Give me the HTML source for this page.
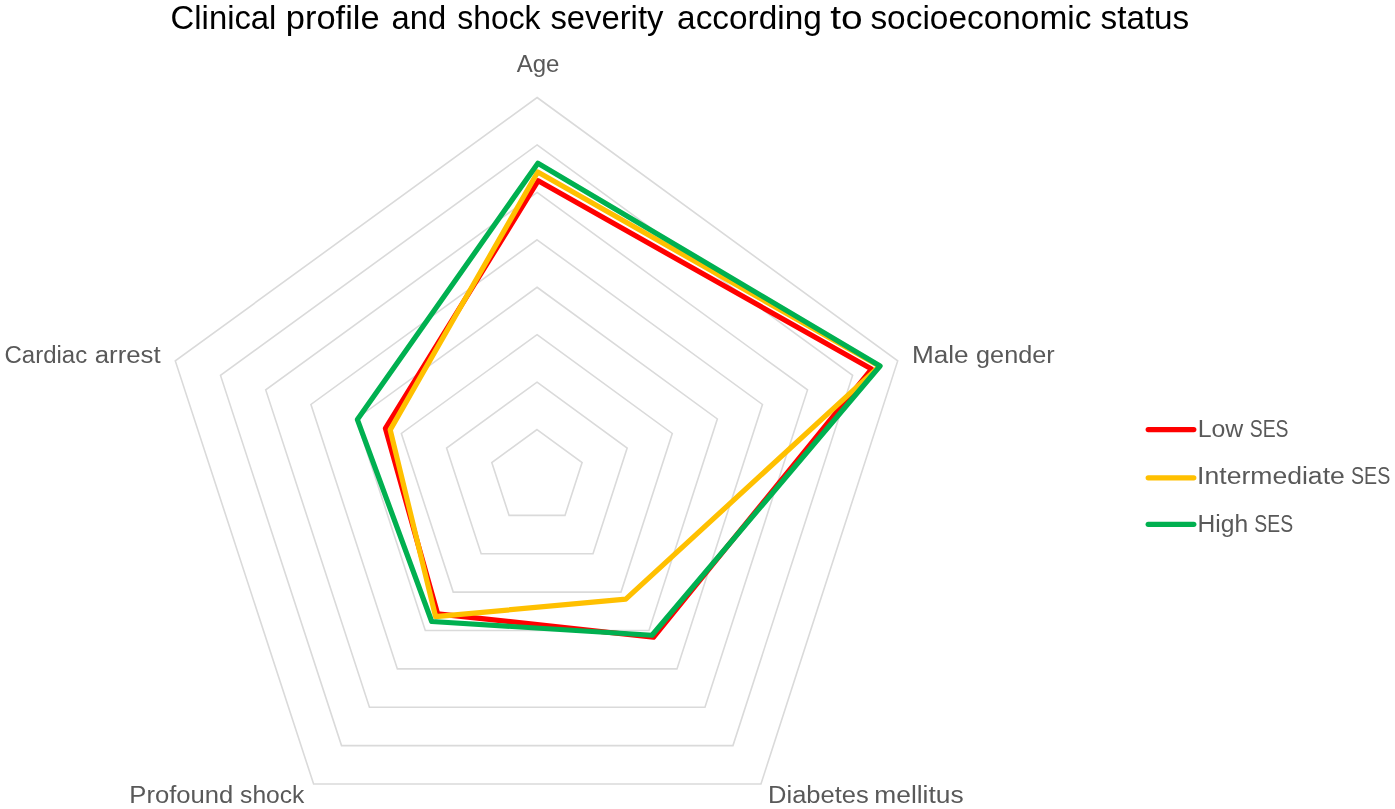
<!DOCTYPE html>
<html lang="en"><head><meta charset="utf-8"><title>Clinical profile and shock severity according to socioeconomic status</title>
<style>
html,body{margin:0;padding:0;background:#fff;}
body{width:1395px;height:809px;overflow:hidden;}
svg{display:block;font-family:"Liberation Sans",sans-serif;}
.grid polygon{fill:none;stroke:#DADADA;stroke-width:1.6;}
.series polygon{fill:none;stroke-width:5.20;stroke-linejoin:round;}
.legend line{stroke-width:5.2;stroke-linecap:round;}
</style></head><body>
<svg width="1395" height="809" viewBox="0 0 1395 809">
<rect width="1395" height="809" fill="#ffffff"/>
<g class="grid">
<polygon points="537.01,429.56 582.09,462.49 564.99,515.38 509.07,515.38 491.79,462.49"/>
<polygon points="537.02,382.12 627.17,447.98 592.99,553.75 481.15,553.75 446.57,447.98"/>
<polygon points="537.04,334.69 672.26,433.46 620.98,592.12 453.23,592.12 401.36,433.46"/>
<polygon points="537.05,287.25 717.35,418.95 648.98,630.50 425.30,630.50 356.15,418.95"/>
<polygon points="537.06,239.81 762.44,404.44 676.97,668.88 397.38,668.88 310.94,404.44"/>
<polygon points="537.08,192.38 807.53,389.92 704.96,707.25 369.45,707.25 265.73,389.92"/>
<polygon points="537.09,144.94 852.61,375.41 732.96,745.62 341.53,745.62 220.51,375.41"/>
<polygon points="537.10,97.50 897.70,360.90 760.95,784.00 313.60,784.00 175.30,360.90"/>
</g>
<g class="series">
<polygon points="538.20,180.75 871.50,369.10 653.44,637.27 437.60,613.80 385.40,428.40" stroke="#FF0000"/>
<polygon points="537.75,172.00 879.60,366.20 625.76,599.16 435.60,616.60 390.20,429.90" stroke="#FFC000"/>
<polygon points="537.90,163.15 880.05,366.00 651.97,635.24 431.70,621.50 357.40,419.60" stroke="#00B050"/>
</g>
<g class="legend">
<line x1="1148.2" x2="1193.8" y1="429.6" y2="429.6" stroke="#FF0000"/>
<line x1="1148.2" x2="1193.8" y1="477.8" y2="477.8" stroke="#FFC000"/>
<line x1="1148.2" x2="1193.8" y1="524.3" y2="524.3" stroke="#00B050"/>
</g>
<g class="labels">
<text y="28.8" font-size="33.5" fill="#000000"><tspan x="170.61" textLength="105.77" lengthAdjust="spacingAndGlyphs">Clinical</tspan> <tspan x="285.80" textLength="93.85" lengthAdjust="spacingAndGlyphs">profile</tspan> <tspan x="391.57" textLength="54.72" lengthAdjust="spacingAndGlyphs">and</tspan> <tspan x="457.36" textLength="83.18" lengthAdjust="spacingAndGlyphs">shock</tspan> <tspan x="550.41" textLength="112.98" lengthAdjust="spacingAndGlyphs">severity</tspan> <tspan x="677.12" textLength="144.67" lengthAdjust="spacingAndGlyphs">according</tspan> <tspan x="830.20" textLength="32.46" lengthAdjust="spacingAndGlyphs">to</tspan> <tspan x="870.41" textLength="221.00" lengthAdjust="spacingAndGlyphs">socioeconomic</tspan> <tspan x="1100.53" textLength="88.74" lengthAdjust="spacingAndGlyphs">status</tspan></text>
<text y="72.0" font-size="23.1" fill="#595959"><tspan x="516.66" textLength="42.73" lengthAdjust="spacingAndGlyphs">Age</tspan></text>
<text y="362.7" font-size="23.1" fill="#595959"><tspan x="4.50" textLength="82.68" lengthAdjust="spacingAndGlyphs">Cardiac</tspan> <tspan x="94.75" textLength="65.86" lengthAdjust="spacingAndGlyphs">arrest</tspan></text>
<text y="362.7" font-size="23.1" fill="#595959"><tspan x="911.98" textLength="56.66" lengthAdjust="spacingAndGlyphs">Male</tspan> <tspan x="976.09" textLength="78.56" lengthAdjust="spacingAndGlyphs">gender</tspan></text>
<text y="803.4" font-size="23.1" fill="#595959"><tspan x="129.37" textLength="103.95" lengthAdjust="spacingAndGlyphs">Profound</tspan> <tspan x="240.12" textLength="64.30" lengthAdjust="spacingAndGlyphs">shock</tspan></text>
<text y="803.4" font-size="23.1" fill="#595959"><tspan x="768.13" textLength="100.61" lengthAdjust="spacingAndGlyphs">Diabetes</tspan> <tspan x="874.30" textLength="89.26" lengthAdjust="spacingAndGlyphs">mellitus</tspan></text>
<text y="437.1" font-size="23.1" fill="#595959"><tspan x="1197.65" textLength="45.61" lengthAdjust="spacingAndGlyphs">Low</tspan> <tspan x="1249.74" textLength="38.82" lengthAdjust="spacingAndGlyphs">SES</tspan></text>
<text y="484.4" font-size="23.1" fill="#595959"><tspan x="1197.12" textLength="147.69" lengthAdjust="spacingAndGlyphs">Intermediate</tspan> <tspan x="1351.02" textLength="39.32" lengthAdjust="spacingAndGlyphs">SES</tspan></text>
<text y="531.7" font-size="23.1" fill="#595959"><tspan x="1197.60" textLength="50.59" lengthAdjust="spacingAndGlyphs">High</tspan> <tspan x="1254.30" textLength="38.80" lengthAdjust="spacingAndGlyphs">SES</tspan></text>
</g>
</svg>
</body></html>
